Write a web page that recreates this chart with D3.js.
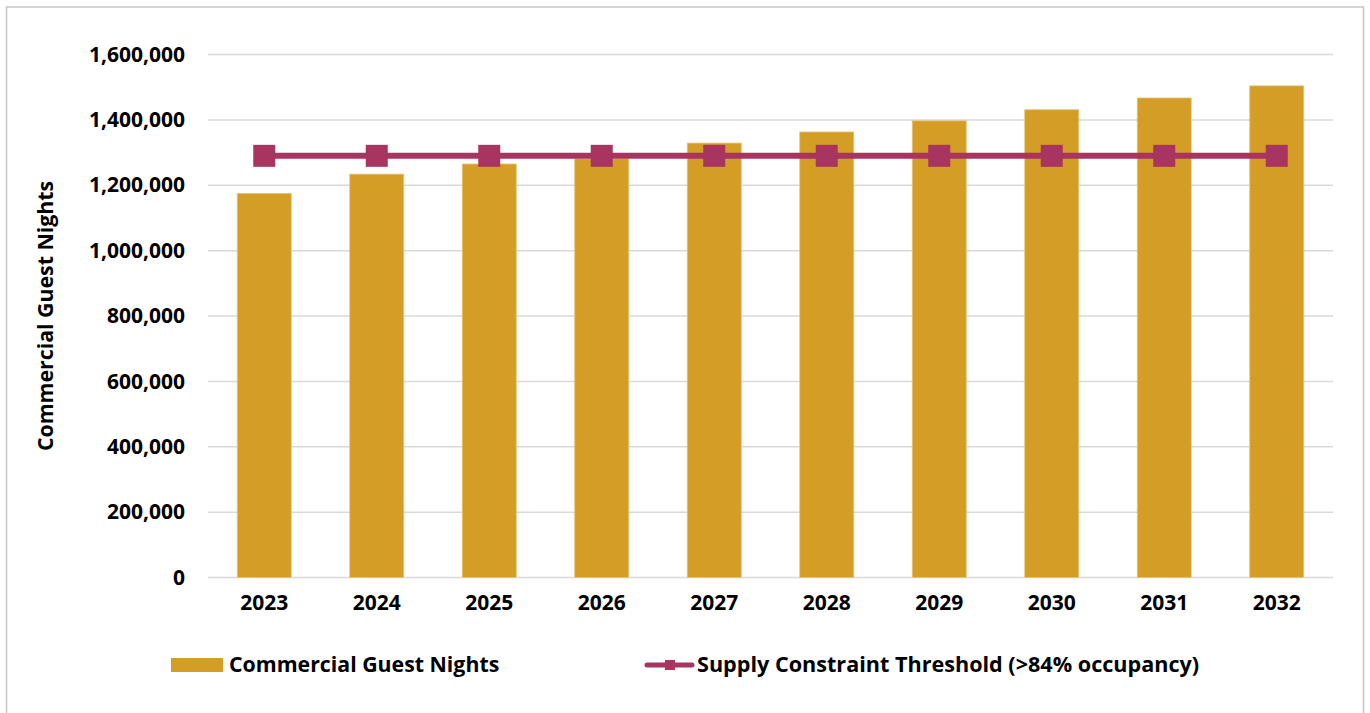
<!DOCTYPE html>
<html>
<head>
<meta charset="utf-8">
<script src="https://cdn.jsdelivr.net/npm/d3@7"></script>
<style>
  html, body { margin: 0; padding: 0; background: #ffffff; }
  svg text { font-family: "Open Sans", "Noto Sans", sans-serif; font-weight: 700; fill: #000; }
</style>
</head>
<body>
<svg id="chart" width="1370" height="713"></svg>
<script>
// Forecast years and values
const years = ["2023", "2024", "2025", "2026", "2027", "2028", "2029", "2030", "2031", "2032"];
const guestNights = [1175000, 1234000, 1265000, 1281000, 1329000, 1363000, 1397000, 1431000, 1467000, 1504000];
const threshold = [1290000, 1290000, 1290000, 1290000, 1290000, 1290000, 1290000, 1290000, 1290000, 1290000];
const yTicks = [0, 200000, 400000, 600000, 800000, 1000000, 1200000, 1400000, 1600000];

const barLabel = "Commercial Guest Nights";
const lineLabel = "Supply Constraint Threshold (>84% occupancy)";
const yTitle = "Commercial Guest Nights";

const barColor = "#D49D26";
const lineColor = "#A8355F";
const gridColor = "#d9d9d9";

const svg = d3.select("#chart");

// outer chart frame
svg.append("rect")
  .attr("x", 6.5).attr("y", 7)
  .attr("width", 1357).attr("height", 720)
  .attr("fill", "#fff")
  .attr("stroke", "#c6c6c6").attr("stroke-width", 1.5);

const plot = { left: 208, right: 1333, top: 54.5, bottom: 577.5 };

const x = d3.scaleBand()
  .domain(years)
  .range([plot.left, plot.right])
  .paddingInner(0.52)
  .paddingOuter(0.26);

const y = d3.scaleLinear()
  .domain([0, 1600000])
  .range([plot.bottom, plot.top]);

// horizontal gridlines
svg.append("g")
  .selectAll("line")
  .data(yTicks)
  .join("line")
  .attr("x1", plot.left).attr("x2", plot.right)
  .attr("y1", d => y(d)).attr("y2", d => y(d))
  .attr("stroke", gridColor).attr("stroke-width", 1.5);

// y axis labels
const yAxis = d3.axisLeft(y)
  .tickValues(yTicks)
  .tickSize(0)
  .tickPadding(0)
  .tickFormat(d3.format(","));
const yg = svg.append("g")
  .attr("transform", `translate(${185},0)`)
  .call(yAxis);
yg.select(".domain").remove();
yg.selectAll("text")
  .attr("font-size", 21)
  .attr("font-family", null)
  .attr("fill", "#000");

// x axis labels
const xAxis = d3.axisBottom(x).tickSize(0).tickPadding(0);
const xg = svg.append("g")
  .attr("transform", `translate(0,${plot.bottom + 18})`)
  .call(xAxis);
xg.select(".domain").remove();
xg.selectAll("text")
  .attr("font-size", 21)
  .attr("font-family", null)
  .attr("fill", "#000");

// bars
svg.append("g")
  .selectAll("rect")
  .data(years.map((yr, i) => ({ yr, v: guestNights[i] })))
  .join("rect")
  .attr("x", d => x(d.yr))
  .attr("width", x.bandwidth())
  .attr("y", d => y(d.v))
  .attr("height", d => y(0) - y(d.v))
  .attr("fill", barColor)
  .attr("stroke", "#e6c47a")
  .attr("stroke-width", 0.8);

// threshold line with square markers
const pts = years.map((yr, i) => ({ yr, v: threshold[i] }));
const cx = d => x(d.yr) + x.bandwidth() / 2;

svg.append("path")
  .datum(pts)
  .attr("fill", "none")
  .attr("stroke", lineColor)
  .attr("stroke-width", 6)
  .attr("d", d3.line().x(cx).y(d => y(d.v)));

const ms = 22;
svg.append("g")
  .selectAll("rect")
  .data(pts)
  .join("rect")
  .attr("x", d => cx(d) - ms / 2)
  .attr("y", d => y(d.v) - ms / 2)
  .attr("width", ms).attr("height", ms)
  .attr("fill", lineColor);

// y axis title
svg.append("text")
  .attr("transform", `translate(53,${(plot.top + plot.bottom) / 2}) rotate(-90)`)
  .attr("text-anchor", "middle")
  .attr("font-size", 21.3)
  .text(yTitle);

// legend
const lg = svg.append("g");
lg.append("rect")
  .attr("x", 171).attr("y", 658)
  .attr("width", 52).attr("height", 14)
  .attr("fill", barColor);
lg.append("text")
  .attr("x", 229).attr("y", 671.5)
  .attr("font-size", 21.3)
  .text(barLabel);

lg.append("line")
  .attr("x1", 647).attr("x2", 692)
  .attr("y1", 665).attr("y2", 665)
  .attr("stroke", lineColor).attr("stroke-width", 5)
  .attr("stroke-linecap", "round");
lg.append("rect")
  .attr("x", 665).attr("y", 660)
  .attr("width", 10).attr("height", 10)
  .attr("fill", lineColor);
lg.append("text")
  .attr("x", 697).attr("y", 671.5)
  .attr("font-size", 21.6)
  .text(lineLabel);
</script>
</body>
</html>
